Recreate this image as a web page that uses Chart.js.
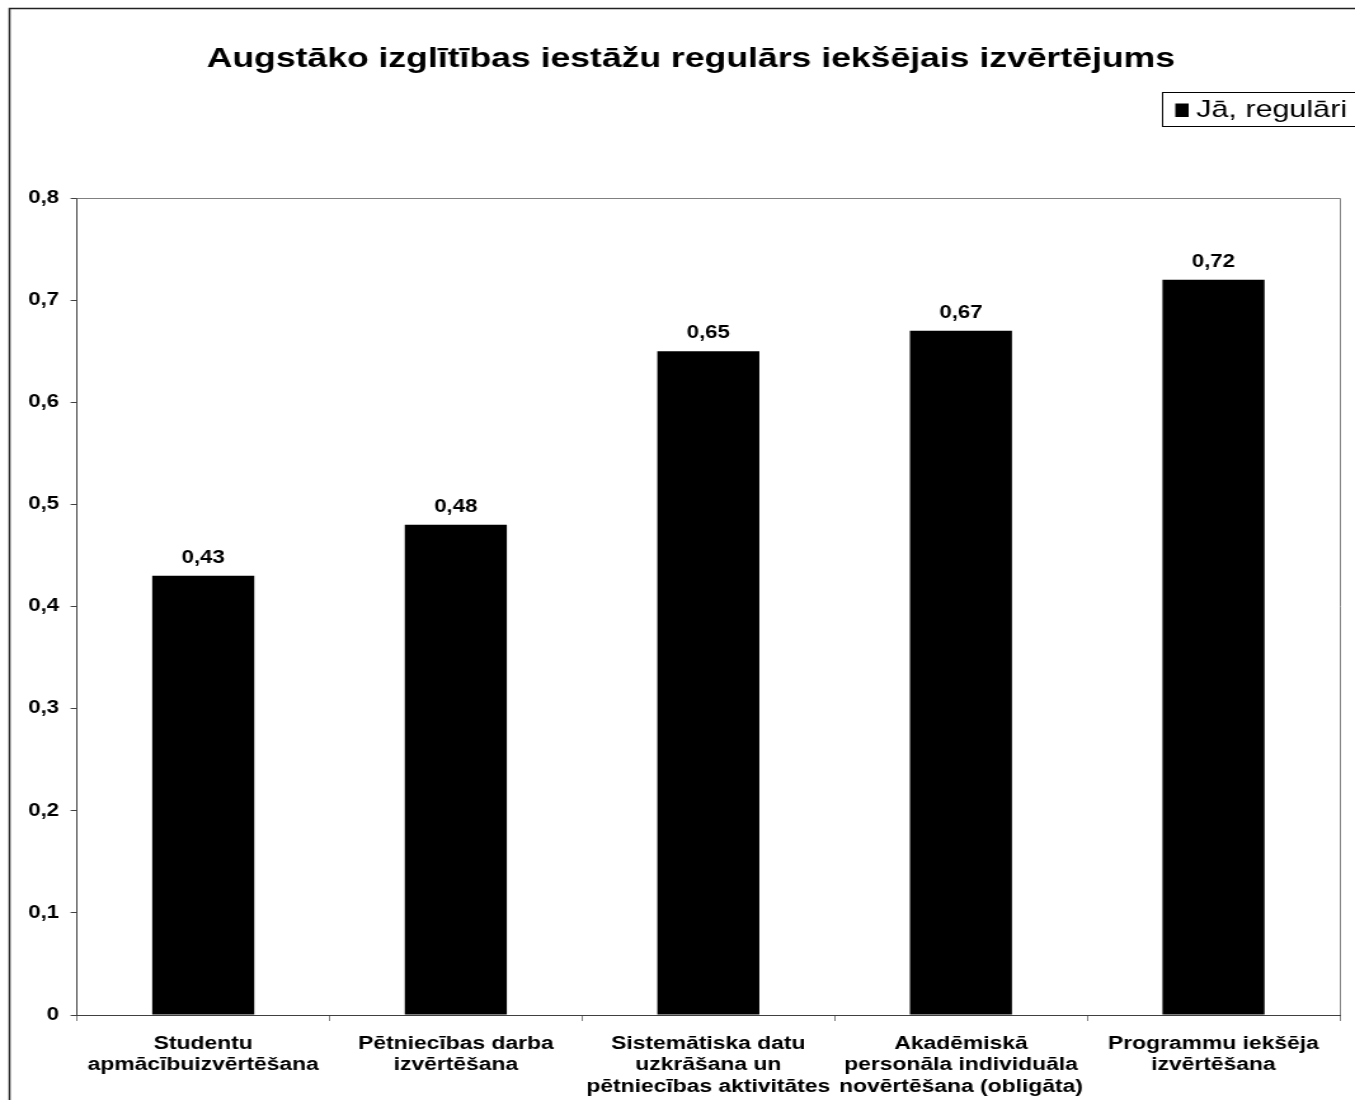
<!DOCTYPE html>
<html>
<head>
<meta charset="utf-8">
<script src="https://cdn.jsdelivr.net/npm/chart.js@4.4.1/dist/chart.umd.min.js"></script>
<style>
  html, body { margin: 0; padding: 0; background: #fff; overflow: hidden; }
  /* the source picture is stretched sideways, so the canvas is drawn narrow and widened */
  #chart { display: block; transform: scaleX(1.2699); transform-origin: 0 0; }
</style>
</head>
<body>
<canvas id="chart" width="1067" height="1100"></canvas>
<script>
const chartTitle = "Augstāko izglītības iestāžu regulārs iekšējais izvērtējums";
const seriesName = "Jā, regulāri";
const categories = [
    ["Studentu", "apmācībuizvērtēšana"],
    ["Pētniecības darba", "izvērtēšana"],
    ["Sistemātiska datu", "uzkrāšana un", "pētniecības aktivitātes"],
    ["Akadēmiskā", "personāla individuāla", "novērtēšana (obligāta)"],
    ["Programmu iekšēja", "izvērtēšana"]
];
const values = [0.43, 0.48, 0.65, 0.67, 0.72];
const yMin = 0;
const yMax = 0.8;
const yStep = 0.1;

const FONT = "'Liberation Sans', Arial, sans-serif";

function commaNum(v, digits) {
    if (Math.abs(v) < 1e-9) return "0";
    return v.toFixed(digits).replace('.', ',');
}

// title, legend, frame, value labels
const decorPlugin = {
    id: 'decor',
    beforeDraw(chart) {
        const ctx = chart.ctx;
        ctx.save();
        ctx.fillStyle = '#fff';
        ctx.fillRect(0, 0, chart.width, chart.height);
        ctx.restore();
    },
    afterDraw(chart) {
        const ctx = chart.ctx;
        const area = chart.chartArea;
        ctx.save();

        // outer frame
        ctx.strokeStyle = '#222';
        ctx.lineWidth = 1.5;
        ctx.strokeRect(7.5, 8.5, chart.width + 20, chart.height + 20);

        // plot frame top / right
        ctx.strokeStyle = '#808080';
        ctx.lineWidth = 1;
        ctx.beginPath();
        ctx.moveTo(area.left, area.top + 0.5);
        ctx.lineTo(area.right + 0.5, area.top + 0.5);
        ctx.lineTo(area.right + 0.5, area.bottom);
        ctx.stroke();

        // title
        ctx.fillStyle = '#000';
        ctx.font = "bold 28px " + FONT;
        ctx.textAlign = 'center';
        ctx.textBaseline = 'alphabetic';
        ctx.fillText(chartTitle, 544, 67);

        // legend
        ctx.strokeStyle = '#000';
        ctx.lineWidth = 1;
        ctx.strokeRect(915.5, 92.5, 200, 34);
        ctx.fillRect(925.5, 103.5, 10.5, 13.5);
        ctx.font = "24px " + FONT;
        ctx.textAlign = 'left';
        ctx.fillText(seriesName, 942, 117);

        // value labels
        const meta = chart.getDatasetMeta(0);
        ctx.font = "bold 17.5px " + FONT;
        ctx.textAlign = 'center';
        meta.data.forEach((bar, i) => {
            ctx.fillText(commaNum(values[i], 2), bar.x, bar.y - 13);
        });
        ctx.restore();
    }
};

new Chart(document.getElementById('chart'), {
    type: 'bar',
    data: {
        labels: categories,
        datasets: [{
            label: seriesName,
            data: values,
            backgroundColor: '#000',
            borderWidth: 0,
            categoryPercentage: 1,
            barPercentage: 0.404
        }]
    },
    options: {
        responsive: false,
        devicePixelRatio: 1,
        animation: false,
        layout: { padding: { top: 198, right: 12, left: 0, bottom: 0 } },
        plugins: {
            legend: { display: false },
            title: { display: false },
            tooltip: { enabled: false }
        },
        scales: {
            x: {
                afterFit(scale) { scale.height = 85; },
                grid: { drawOnChartArea: false, drawTicks: true, tickLength: 6, color: '#808080', offset: true },
                border: { display: true, color: '#404040', width: 1 },
                ticks: {
                    color: '#000',
                    autoSkip: false,
                    maxRotation: 0,
                    minRotation: 0,
                    padding: 12,
                    font: { family: FONT, size: 18, weight: 'bold', lineHeight: 21.5 / 18 }
                }
            },
            y: {
                min: yMin,
                max: yMax,
                afterFit(scale) { scale.width = 60.6; },
                grid: { drawOnChartArea: false, drawTicks: true, tickLength: 5, color: '#404040' },
                border: { display: true, color: '#404040', width: 1 },
                ticks: {
                    stepSize: yStep,
                    color: '#000',
                    padding: 9,
                    font: { family: FONT, size: 17.5, weight: 'bold' },
                    callback: v => commaNum(v, 1)
                }
            }
        }
    },
    plugins: [decorPlugin]
});
</script>
</body>
</html>
